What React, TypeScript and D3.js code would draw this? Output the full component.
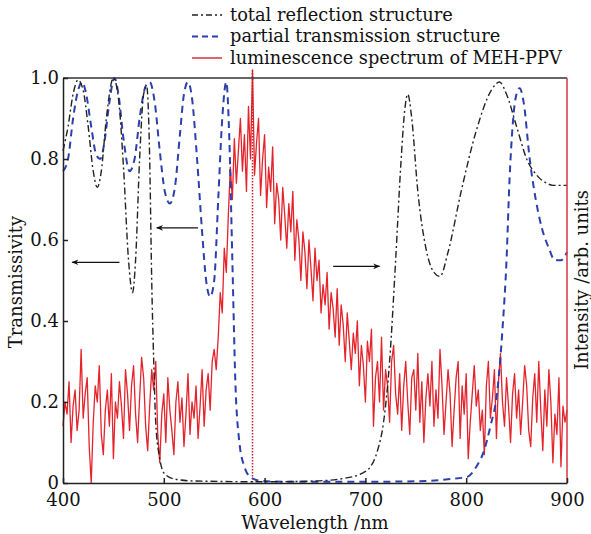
import React, { useEffect, useRef } from 'react'
import * as d3 from 'd3'

// total reflection structure (black dash-dot)
const reflWl = [400, 405, 410, 415, 420, 425, 430, 434, 438, 443, 450, 455, 460, 465, 469, 472, 476, 480, 483, 486, 488, 490, 492, 496, 500, 510, 530, 600, 650, 680, 695, 705, 712, 718, 724, 730, 735, 739, 742, 746, 752, 760, 768, 774, 782, 795, 810, 825, 833, 840, 850, 860, 870, 880, 886, 900]
const reflT = [0.82, 0.88, 0.96, 0.995, 0.97, 0.88, 0.77, 0.73, 0.77, 0.9, 1.0, 0.95, 0.78, 0.55, 0.47, 0.55, 0.8, 0.96, 0.98, 0.8, 0.5, 0.3, 0.15, 0.06, 0.025, 0.01, 0.005, 0.003, 0.005, 0.012, 0.022, 0.04, 0.08, 0.15, 0.3, 0.55, 0.78, 0.92, 0.96, 0.9, 0.72, 0.58, 0.52, 0.51, 0.57, 0.72, 0.87, 0.97, 0.99, 0.96, 0.88, 0.8, 0.76, 0.74, 0.735, 0.735]

// partial transmission structure (blue dashed)
const partWl = [400, 405, 410, 415, 419, 423, 428, 433, 437, 441, 446, 451, 455, 460, 466, 471, 476, 482, 486, 491, 496, 501, 506, 511, 516, 520, 524, 528, 533, 538, 542, 546, 550, 554, 558, 562, 565, 568, 571, 575, 580, 586, 595, 620, 700, 760, 785, 801, 810, 817, 824, 831, 836, 840, 843, 846, 849, 853, 857, 863, 869, 875, 882, 888, 894, 900]
const partT = [0.77, 0.8, 0.9, 0.97, 0.99, 0.96, 0.88, 0.81, 0.8, 0.84, 0.94, 1.0, 0.96, 0.85, 0.77, 0.8, 0.9, 0.98, 0.99, 0.94, 0.82, 0.72, 0.69, 0.73, 0.86, 0.96, 0.99, 0.95, 0.8, 0.62, 0.5, 0.46, 0.5, 0.7, 0.9, 0.99, 0.85, 0.55, 0.25, 0.1, 0.04, 0.015, 0.006, 0.003, 0.003, 0.005, 0.01, 0.015, 0.04, 0.075, 0.14, 0.23, 0.38, 0.55, 0.75, 0.88, 0.95, 0.975, 0.94, 0.8, 0.7, 0.63, 0.58, 0.55, 0.55, 0.57]

// luminescence spectrum of MEH-PPV, 400..900 nm every 2 nm
const lumStart = 400
const lumStep = 2
const lumI = [
  0.14, 0.2, 0.17, 0.25, 0.1, 0.19, 0.23, 0.13, 0.18, 0.33,
  0.16, 0.22, 0.26, 0.09, 0.0, 0.15, 0.24, 0.2, 0.29, 0.12,
  0.07, 0.18, 0.23, 0.14, 0.27, 0.06, 0.2, 0.16, 0.25, 0.19,
  0.11, 0.28, 0.22, 0.13, 0.24, 0.29, 0.17, 0.1, 0.21, 0.31,
  0.26, 0.14, 0.08, 0.19, 0.28, 0.23, 0.3, 0.12, 0.05, 0.17,
  0.22, 0.1, 0.26, 0.18, 0.13, 0.07, 0.2, 0.25, 0.15, 0.21,
  0.09, 0.17, 0.27, 0.12, 0.2, 0.16, 0.24, 0.11, 0.19, 0.28,
  0.14, 0.23, 0.27, 0.18, 0.3, 0.33,
  0.28, 0.36, 0.47, 0.42, 0.58, 0.52, 0.66, 0.78, 0.7, 0.85,
  0.74, 0.82, 0.9, 0.77, 0.86, 0.72, 0.93, 0.8, 1.02, 0.76,
  0.84, 0.9, 0.71, 0.8, 0.86, 0.68, 0.78, 0.72, 0.83, 0.64,
  0.74, 0.7, 0.6, 0.73, 0.66, 0.58, 0.69, 0.62, 0.72, 0.55,
  0.65, 0.6, 0.5, 0.62, 0.57, 0.48, 0.6, 0.53, 0.45, 0.58,
  0.5, 0.55, 0.42, 0.49, 0.44, 0.52, 0.38, 0.47, 0.43, 0.36,
  0.48, 0.34, 0.44, 0.39, 0.3, 0.42, 0.35, 0.28, 0.37, 0.32,
  0.4, 0.24, 0.34, 0.29, 0.2, 0.35, 0.3, 0.38, 0.14, 0.26,
  0.3, 0.2, 0.36, 0.18, 0.28, 0.24, 0.15, 0.3, 0.34, 0.22,
  0.17, 0.27, 0.13, 0.24, 0.3, 0.2, 0.12, 0.26, 0.28, 0.18,
  0.32, 0.15, 0.25, 0.1, 0.21, 0.27, 0.19, 0.3, 0.14, 0.23,
  0.16, 0.33, 0.24, 0.12, 0.2, 0.28, 0.22, 0.09, 0.18, 0.26,
  0.3, 0.11, 0.24, 0.17, 0.27, 0.06, 0.15, 0.22, 0.29, 0.19,
  0.23, 0.13, 0.18, 0.07, 0.24, 0.3, 0.16, 0.21, 0.28, 0.11,
  0.25, 0.32, 0.2, 0.14, 0.26, 0.19, 0.1, 0.22, 0.27, 0.16,
  0.23, 0.12, 0.2, 0.29, 0.24, 0.13, 0.09, 0.21, 0.27, 0.15,
  0.3, 0.18, 0.08, 0.23, 0.14, 0.28, 0.2, 0.05, 0.17, 0.12,
  0.26, 0.04, 0.19, 0.15, 0.18,
]

const peakWl = 588
const xTickVals = [400, 500, 600, 700, 800, 900]
const yTickVals = [0, 0.2, 0.4, 0.6, 0.8, 1.0]

// arrows: [from nm, to nm, level]
const arrows = [
  [456, 409, 0.545],
  [534, 493, 0.63],
  [668, 714, 0.535],
]

const legendItems = [
  { label: 'total reflection structure', color: '#222', dash: '6,3,2,3', width: 1.5 },
  { label: 'partial transmission structure', color: '#2b3fae', dash: '6,4', width: 2 },
  { label: 'luminescence spectrum of MEH-PPV', color: '#d6303a', dash: null, width: 1.5 },
]

const font = 'DejaVu Serif, serif'

export default function App() {
  const xAxisRef = useRef(null)
  const yAxisRef = useRef(null)

  const width = 591
  const height = 534
  const left = 63
  const right = 567
  const top = 78
  const bottom = 483

  const x = d3.scaleLinear().domain([400, 900]).range([left, right])
  const y = d3.scaleLinear().domain([0, 1]).range([bottom, top])

  const line = d3.line<[number, number]>()
    .x(d => x(d[0]))
    .y(d => y(d[1]))

  const smooth = d3.line<[number, number]>()
    .x(d => x(d[0]))
    .y(d => y(d[1]))
    .curve(d3.curveMonotoneX)

  const reflPts = reflWl.map((w, i) => [w, reflT[i]] as [number, number])
  const partPts = partWl.map((w, i) => [w, partT[i]] as [number, number])
  const lumPts = lumI.map((v, i) => [lumStart + i * lumStep, v] as [number, number])

  useEffect(() => {
    const xa = d3.axisBottom(x)
      .tickValues(xTickVals)
      .tickSizeInner(-5)
      .tickSizeOuter(0)
      .tickPadding(10)
      .tickFormat(d3.format('d'))
    const ya = d3.axisLeft(y)
      .tickValues(yTickVals)
      .tickSizeInner(-5)
      .tickSizeOuter(0)
      .tickPadding(4)
      .tickFormat(d => (+d === 0 ? '0' : d3.format('.1f')(+d)))

    const gx = d3.select(xAxisRef.current).call(xa)
    gx.attr('font-family', null).attr('font-size', null)
    gx.selectAll('text').style('font-family', font).style('font-size', '18px').attr('fill', '#111')
    gx.selectAll('line, path').attr('stroke', '#222').attr('stroke-width', 1.5)

    const gy = d3.select(yAxisRef.current).call(ya)
    gy.attr('font-family', null).attr('font-size', null)
    gy.selectAll('text').style('font-family', font).style('font-size', '18px').attr('fill', '#111')
    gy.selectAll('line, path').attr('stroke', '#222').attr('stroke-width', 1.5)
  }, [])

  return (
    <svg width={width} height={height} style={{ position: 'absolute', left: 0, top: 0, background: '#fff' }}>
      <defs>
        <marker id="arrowhead" viewBox="0 0 10 10" refX="9" refY="5" markerWidth="10" markerHeight="7" orient="auto-start-reverse" markerUnits="userSpaceOnUse">
          <path d="M0,1 L10,5 L0,9 L3,5 Z" fill="#111" />
        </marker>
      </defs>

      {/* luminescence */}
      <path d={line(lumPts) ?? ''} fill="none" stroke="#e4232b" strokeWidth={1.3} strokeLinejoin="round" />

      {/* peak marker */}
      <line x1={x(peakWl)} x2={x(peakWl)} y1={y(1.02)} y2={y(0)} stroke="#c8202c" strokeWidth={1.5} strokeDasharray="1.5,1.5" />

      {/* partial transmission */}
      <path d={smooth(partPts) ?? ''} fill="none" stroke="#2b3fae" strokeWidth={2} strokeDasharray="7,5" />

      {/* total reflection */}
      <path d={smooth(reflPts) ?? ''} fill="none" stroke="#222" strokeWidth={1.4} strokeDasharray="7,3,2,3" />

      {/* arrows */}
      {arrows.map((a, i) => (
        <line key={i} x1={x(a[0])} x2={x(a[1])} y1={y(a[2])} y2={y(a[2])} stroke="#111" strokeWidth={1.3} markerEnd="url(#arrowhead)" />
      ))}

      {/* frame */}
      <line x1={left} x2={right} y1={top} y2={top} stroke="#333" strokeWidth={1.5} />
      <line x1={right} x2={right} y1={top} y2={bottom} stroke="#d4373f" strokeWidth={1.5} />

      <g ref={xAxisRef} transform={`translate(0,${bottom})`} />
      <g ref={yAxisRef} transform={`translate(${left},0)`} />

      {/* axis titles */}
      <text x={(left + right) / 2} y={529} textAnchor="middle" fontFamily={font} fontSize={18} fill="#111">Wavelength /nm</text>
      <text transform={`translate(22,282) rotate(-90)`} textAnchor="middle" fontFamily={font} fontSize={18} fill="#111">Transmissivity</text>
      <text transform={`translate(588,280) rotate(-90)`} textAnchor="middle" fontFamily={font} fontSize={18} fill="#111">Intensity /arb. units</text>

      {/* legend */}
      {legendItems.map((d, i) => (
        <g key={d.label} transform={`translate(0,${15 + i * 21.5})`}>
          <line x1={192} x2={222} y1={0} y2={0} stroke={d.color} strokeWidth={d.width} strokeDasharray={d.dash ?? undefined} />
          <text x={230} y={0} dy="0.33em" fontFamily={font} fontSize={17.8} fill="#111">{d.label}</text>
        </g>
      ))}
    </svg>
  )
}
